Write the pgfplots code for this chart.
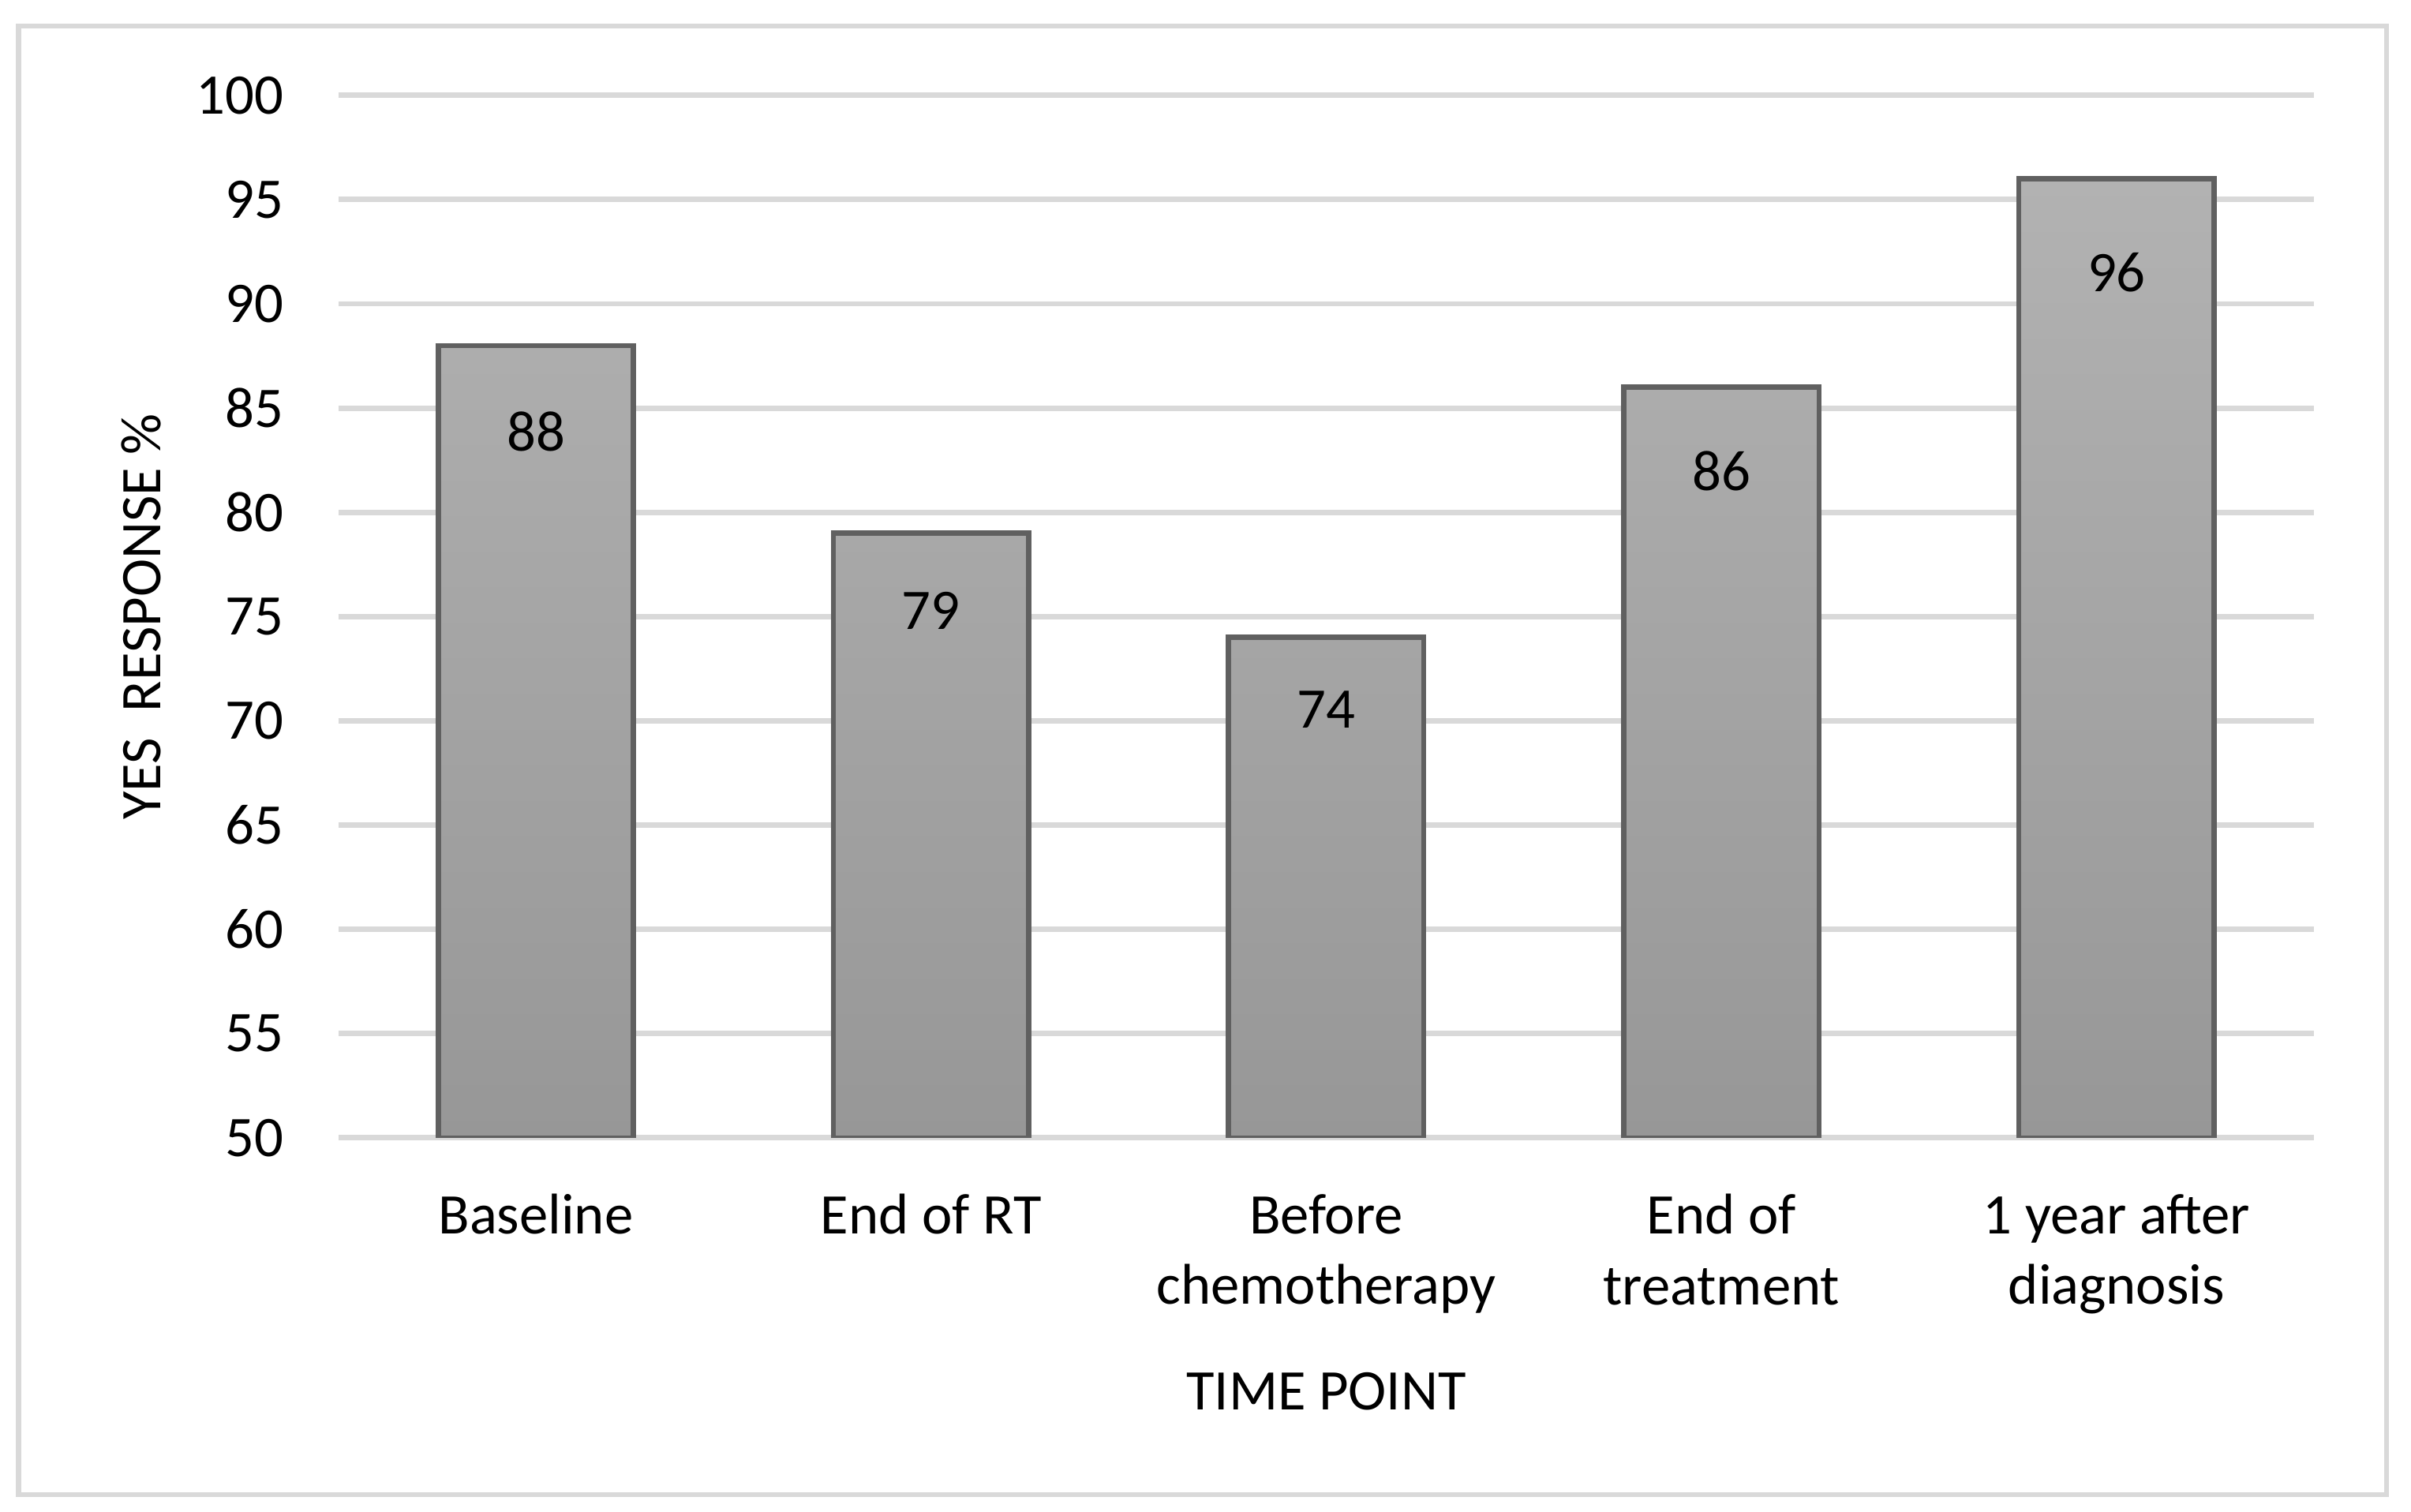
\documentclass[border=0pt]{standalone}
\usepackage{fontspec}
\setmainfont{Carlito}
\usepackage{pgfplots}
\usepackage{pgfplotstable}
\pgfplotsset{compat=1.18}

\definecolor{gridgray}{HTML}{D9D9D9}
\definecolor{baredge}{HTML}{606060}
\definecolor{bartop}{HTML}{B2B2B2}
\definecolor{barbot}{HTML}{979797}

% yes response (%) per time point; bars are drawn from 50, so y = v - 50
\pgfplotstableread{
x v
0 88
1 79
2 74
3 86
4 96
}\yesdata

\begin{document}
\begin{tikzpicture}
\begin{axis}[
    name=ax,
    scale only axis,
    width=385.5pt,
    height=203.4pt,
    xmin=-0.5, xmax=4.5,
    ymin=0, ymax=50,
    xtick={0,...,4},
    xticklabels={Baseline, End of RT, {Before\\chemotherapy}, {End of\\treatment}, {1 year after\\diagnosis}},
    ytick={0,5,...,50},
    yticklabels={50,55,60,65,70,75,80,85,90,95,100},
    ymajorgrids,
    major grid style={draw=gridgray, line width=1.05pt},
    axis line style={draw=none},
    major tick length=0pt,
    tick style={draw=none},
    /pgf/number format/assume math mode=true,
    yticklabel style={font=\fontsize{11.2}{13.8}\selectfont, anchor=east, inner sep=0pt, xshift=-10.5pt},
    xticklabel style={font=\fontsize{11.2}{13.8}\selectfont, align=center, anchor=north, inner sep=0pt, yshift=-10.8pt},
    xlabel={TIME POINT},
    xlabel style={font=\fontsize{11.2}{13.8}\selectfont, at={(axis description cs:0.5,-0.2434)}, anchor=center, inner sep=0pt},
    ylabel={YES\ \ RESPONSE \%},
    ylabel style={font=\fontsize{11.2}{13.8}\selectfont, at={(axis description cs:-0.0996,0.5)}, anchor=center, inner sep=0pt},
]
\addplot[
    ybar,
    bar width=38.1pt,
    bar shift=0pt,
    draw=baredge,
    line width=1pt,
    top color=bartop,
    bottom color=barbot,
    point meta=explicit,
    visualization depends on={\thisrow{v} \as \rawv},
    nodes near coords,
    every node near coord/.append style={
        font=\fontsize{11.2}{13.8}\selectfont,
        text=black,
        anchor=center,
        yshift={-0.191pt*\rawv},
    },
] table[x=x, y expr=\thisrow{v}-50, meta=v] {\yesdata};
\end{axis}

% outer chart frame and page extent
\draw[gridgray, line width=1pt]
    ([shift={(-62.4pt,-69.6pt)}]ax.south west) rectangle ([shift={(399.6pt,216.9pt)}]ax.south west);
\path ([shift={(-66pt,-72.9pt)}]ax.south west) rectangle ([shift={(404.4pt,222pt)}]ax.south west);
\end{tikzpicture}
\end{document}
